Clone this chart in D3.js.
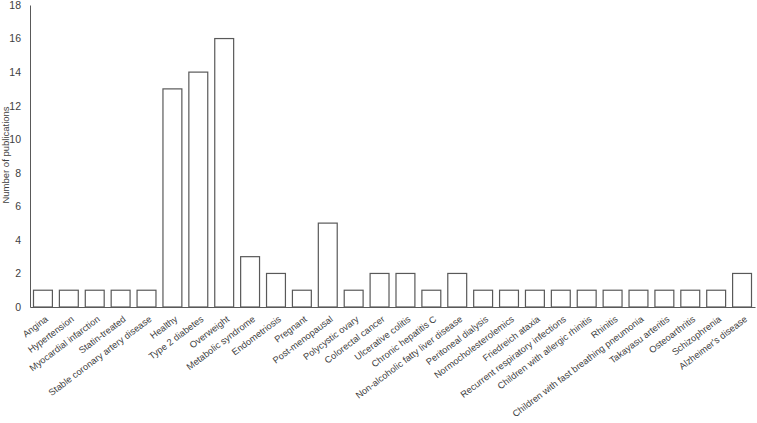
<!DOCTYPE html>
<html>
<head>
<meta charset="utf-8">
<script src="https://cdn.jsdelivr.net/npm/d3@7"></script>
<style>
  body { margin: 0; background: #fff; }
  text { font-family: "Liberation Sans", Arial, sans-serif; fill: #404040; }
</style>
</head>
<body>
<div id="chart"></div>
<script>
// Data
var categories = ["Angina", "Hypertension", "Myocardial infarction", "Statin-treated",
  "Stable coronary artery disease", "Healthy", "Type 2 diabetes", "Overweight",
  "Metabolic syndrome", "Endometriosis", "Pregnant", "Post-menopausal", "Polycystic ovary",
  "Colorectal cancer", "Ulcerative colitis", "Chronic hepatitis C",
  "Non-alcoholic fatty liver disease", "Peritoneal dialysis", "Normocholesterolemics",
  "Friedreich ataxia", "Recurrent respiratory infections", "Children with allergic rhinitis",
  "Rhinitis", "Children with fast breathing pneumonia", "Takayasu arteritis",
  "Osteoarthritis", "Schizophrenia", "Alzheimer's disease"];
var publications = [1, 1, 1, 1, 1, 13, 14, 16, 3, 2, 1, 5, 1, 2, 2, 1, 2, 1, 1, 1, 1, 1, 1, 1, 1, 1, 1, 2];
var yTicks = [0, 2, 4, 6, 8, 10, 12, 14, 16, 18];
var yLabel = "Number of publications";

function drawChart() {
    var w = 757, h = 423;
    var left = 30, right = 755, top = 5, bottom = 307;

    var svg = d3.select("#chart").append("svg")
        .attr("width", w)
        .attr("height", h);

    var x = d3.scaleBand()
        .domain(categories)
        .range([left, right])
        .paddingInner(0.27)
        .paddingOuter(0.135);

    var y = d3.scaleLinear()
        .domain([0, 18])
        .range([bottom, top]);

    // bars
    svg.selectAll("rect.bar")
        .data(publications)
        .enter()
        .append("rect")
        .attr("class", "bar")
        .attr("x", function(d, i) { return x(categories[i]); })
        .attr("y", function(d) { return y(d); })
        .attr("width", x.bandwidth())
        .attr("height", function(d) { return y(0) - y(d); })
        .attr("fill", "#fff")
        .attr("stroke", "#595959")
        .attr("stroke-width", 1.2);

    // y axis
    var yAxis = svg.append("g")
        .attr("transform", "translate(" + left + ",0)")
        .call(d3.axisLeft(y).tickValues(yTicks).tickSize(0).tickPadding(9));
    yAxis.select(".domain").attr("stroke", "#595959");
    yAxis.selectAll("text")
        .attr("font-size", "10.5px")
        .style("fill", "#404040");

    // x axis
    var xAxis = svg.append("g")
        .attr("transform", "translate(0," + bottom + ")")
        .call(d3.axisBottom(x).tickSize(0).tickSizeOuter(0));
    xAxis.select(".domain").attr("stroke", "#595959");
    xAxis.selectAll("text")
        .attr("font-size", "9.3px")
        .style("fill", "#404040")
        .attr("text-anchor", "end")
        .attr("dy", "0")
        .attr("transform", "translate(4,11) rotate(-37)");

    // y label
    svg.append("text")
        .attr("transform", "translate(9,155) rotate(-90)")
        .attr("text-anchor", "middle")
        .attr("font-size", "9.5px")
        .text(yLabel);
}

window.onload = drawChart;
</script>
</body>
</html>
